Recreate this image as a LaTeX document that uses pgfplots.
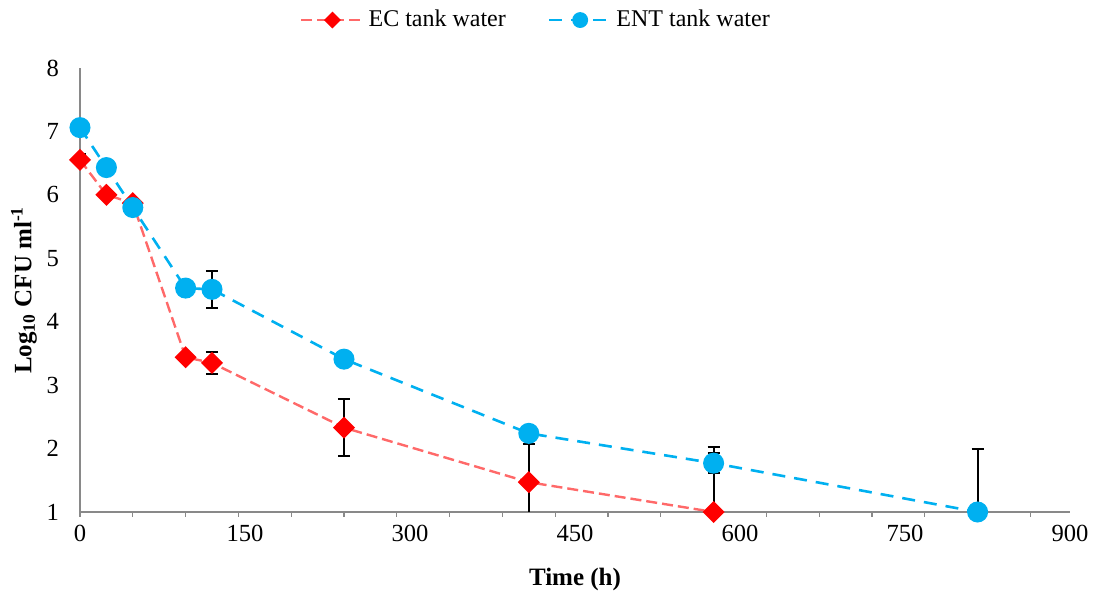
\documentclass[border=0pt]{standalone}
\usepackage{pgfplots}
\pgfplotsset{compat=1.18}
\usepackage{fontspec}
\setmainfont{Liberation Serif}
\definecolor{ecred}{RGB}{255,0,0}
\definecolor{ecline}{RGB}{255,105,105}
\definecolor{entblue}{RGB}{0,176,240}
\definecolor{axgray}{RGB}{137,137,137}
\begin{document}
\begin{tikzpicture}
\path[use as bounding box] (-40pt,-40pt) rectangle (508pt,256pt);
\begin{axis}[
 at={(0pt,0pt)}, anchor=south west,
 scale only axis, width=495pt, height=222pt,
 xmin=0, xmax=900, ymin=1, ymax=8,
 axis lines*=left,
 axis line style={axgray, line width=0.6pt},
 xtick={0,150,...,900},
 minor xtick={0,48,...,864},
 ytick={1,...,8},
 major tick length=0pt,
 minor tick length=2.5pt,
 tick align=outside,
 minor tick style={axgray, line width=0.6pt},
 major tick style={draw=none},
 tick label style={font=\fontsize{12.3}{14}\selectfont},
 /pgf/number format/assume math mode=true,
 xticklabel style={yshift=-3pt},
 yticklabel style={xshift=-7pt},
 xlabel={\textbf{Time (h)}},
 ylabel={\textbf{Log\textsubscript{10} CFU ml\textsuperscript{-1}}},
 label style={font=\fontsize{12.5}{15}\selectfont},
 xlabel style={at={(axis description cs:0.5,-0.151)}, anchor=center},
 ylabel style={at={(axis description cs:-0.0566,0.5)}, anchor=center},
 legend style={at={(axis description cs:0.4616,1.108)}, anchor=center, draw=none, fill=none,
   legend columns=2, font=\fontsize{12}{13}\selectfont,
   /tikz/every even column/.append style={column sep=19pt}},
 legend image code/.code={\draw[mark repeat=2,mark phase=2,#1,every mark/.append style={scale=0.72}] plot coordinates {(0pt,0pt) (15.5pt,0pt) (31pt,0pt)};},
]
% error bars (drawn beneath the markers)
\addplot[forget plot, draw=none, mark=none,
  error bars/.cd, y dir=both, y explicit,
  error bar style={draw=black, line width=1pt, solid},
  error mark options={draw=black, line width=1pt, mark size=3pt, solid, rotate=90}]
 table[x=x, y=y, y error=e] {
x y e
0 6.55 0.10
120 3.35 0.17
240 2.33 0.45
408 1.47 0.60
576 1.00 1.02
};
\addplot[forget plot, draw=none, mark=none,
  error bars/.cd, y dir=both, y explicit,
  error bar style={draw=black, line width=1pt, solid},
  error mark options={draw=black, line width=1pt, mark size=3pt, solid, rotate=90}]
 table[x=x, y=y, y error=e] {
x y e
120 4.51 0.29
240 3.41 0.08
408 2.24 0.12
576 1.77 0.16
816 1.00 1.00
};
\addplot[ecline, line width=1.2pt, dash pattern=on 5.5pt off 2.5pt,
  mark=square*, mark size=3.3pt, mark options={draw=ecred, fill=ecred, solid, rotate=45}]
 table[x=x, y=y] {
x y
0 6.55
24 6.00
48 5.87
96 3.44
120 3.35
240 2.33
408 1.47
576 1.00
};
\addlegendentry{EC tank water}
\addplot[entblue, line width=1.3pt, dash pattern=on 6.5pt off 4.5pt,
  mark=*, mark size=4.6pt, mark options={draw=entblue, fill=entblue, solid}]
 table[x=x, y=y] {
x y
0 7.06
24 6.43
48 5.80
96 4.53
120 4.51
240 3.41
408 2.24
576 1.77
816 1.00
};
\addlegendentry{ENT tank water}
\end{axis}
\end{tikzpicture}
\end{document}
